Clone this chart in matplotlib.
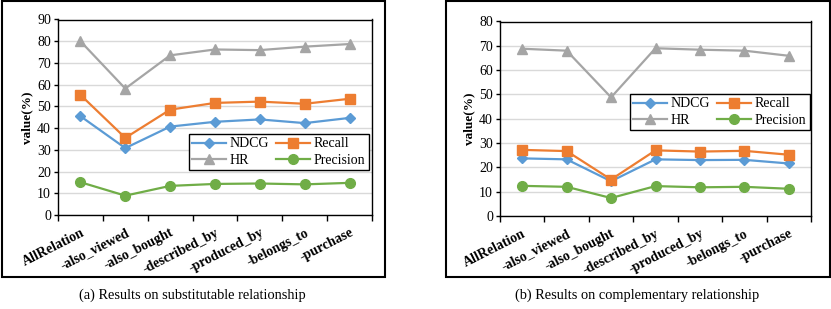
import matplotlib
matplotlib.use("Agg")
import matplotlib.pyplot as plt
from matplotlib.patches import Rectangle
from matplotlib.ticker import FixedLocator

plt.rcParams['font.family'] = ['Liberation Serif', 'DejaVu Serif']

categories = ["AllRelation", "-also_viewed", "-also_bought", "-described_by",
              "-produced_by", "-belongs_to", "-purchase"]

# (a) substitutable
sub_ndcg = [45.5, 30.8, 40.7, 42.9, 44.0, 42.3, 44.7]
sub_recall = [55.3, 35.5, 48.5, 51.6, 52.2, 51.2, 53.5]
sub_hr = [80.0, 58.2, 73.5, 76.2, 75.9, 77.5, 78.7]
sub_prec = [15.1, 8.9, 13.4, 14.3, 14.5, 14.1, 14.8]

# (b) complementary
com_ndcg = [23.7, 23.3, 14.3, 23.3, 23.0, 23.1, 21.6]
com_recall = [27.2, 26.7, 15.0, 27.0, 26.5, 26.8, 25.2]
com_hr = [68.8, 68.0, 48.8, 69.0, 68.4, 68.0, 65.9]
com_prec = [12.4, 12.0, 7.4, 12.3, 11.8, 12.0, 11.2]

colors = {"NDCG": "#5B9BD5", "Recall": "#ED7D31", "HR": "#A5A5A5", "Precision": "#70AD47"}
markers = {"NDCG": ("D", 4.8), "Recall": ("s", 7), "HR": ("^", 6.5), "Precision": ("o", 7)}

W, H = 831, 309
fig = plt.figure(figsize=(W / 100, H / 100), dpi=100)


def fx(px):
    return px / W


def fy(py):
    return 1 - py / H


def panel(rect, data, ymax, legend_bbox, caption, cap_x):
    x0, y0, x1, y1 = rect
    ax = fig.add_axes([fx(x0), fy(y1), fx(x1 - x0), (y1 - y0) / H])
    xs = list(range(len(categories)))
    handles = {}
    for name, vals in data:
        m, ms = markers[name]
        h, = ax.plot(xs, vals, color=colors[name], marker=m, markersize=ms, lw=1.6,
                     label=name, zorder=3)
        handles[name] = h
    ax.set_xlim(-0.5, len(categories) - 0.5)
    ax.set_ylim(0, ymax)
    ax.set_yticks(range(0, ymax + 1, 10))
    ax.yaxis.grid(True, color="#D9D9D9", lw=1.0, zorder=0)
    ax.set_axisbelow(True)
    ax.set_xticks(xs)
    ax.set_xticklabels(categories, rotation=27, ha="right", rotation_mode="anchor",
                       fontweight="bold", fontsize=10)
    ax.xaxis.set_minor_locator(FixedLocator([i - 0.5 for i in range(len(categories) + 1)]))
    ax.tick_params(axis="x", which="major", length=0, pad=8)
    ax.tick_params(axis="x", which="minor", length=4, width=1, direction="out")
    ax.tick_params(axis="y", length=3, width=1, direction="out", labelsize=10, pad=2)
    for s in ax.spines.values():
        s.set_linewidth(1.0)
        s.set_color("black")
    ax.set_ylabel("value(%)", fontweight="bold", fontsize=9.5, labelpad=3)
    order = ["NDCG", "HR", "Recall", "Precision"]
    leg = ax.legend([handles[n] for n in order], order, ncol=2, loc="upper left",
                    bbox_to_anchor=legend_bbox,
                    bbox_transform=fig.transFigure, fontsize=10, frameon=True,
                    fancybox=False, edgecolor="black", framealpha=1,
                    borderpad=0.25, handlelength=2.4, handletextpad=0.3,
                    columnspacing=0.5, labelspacing=0.25, borderaxespad=0)
    leg.get_frame().set_linewidth(1.0)
    fig.text(fx(cap_x), fy(295), caption, ha="center", va="center", fontsize=10.4)
    return ax


panel((58, 19.5, 372, 215),
      [("NDCG", sub_ndcg), ("Recall", sub_recall), ("HR", sub_hr), ("Precision", sub_prec)],
      90, (fx(189), fy(134)), "(a) Results on substitutable relationship", 192)
panel((500, 21.5, 811, 216),
      [("NDCG", com_ndcg), ("Recall", com_recall), ("HR", com_hr), ("Precision", com_prec)],
      80, (fx(630), fy(94)), "(b) Results on complementary relationship", 637)

for (bx0, bx1) in [(2, 385), (446, 830)]:
    fig.patches.append(Rectangle((fx(bx0), fy(277)), fx(bx1 - bx0), (277 - 1) / H,
                                 transform=fig.transFigure, fill=False,
                                 edgecolor="black", lw=1.5))

fig.savefig("out.png", dpi=100)
